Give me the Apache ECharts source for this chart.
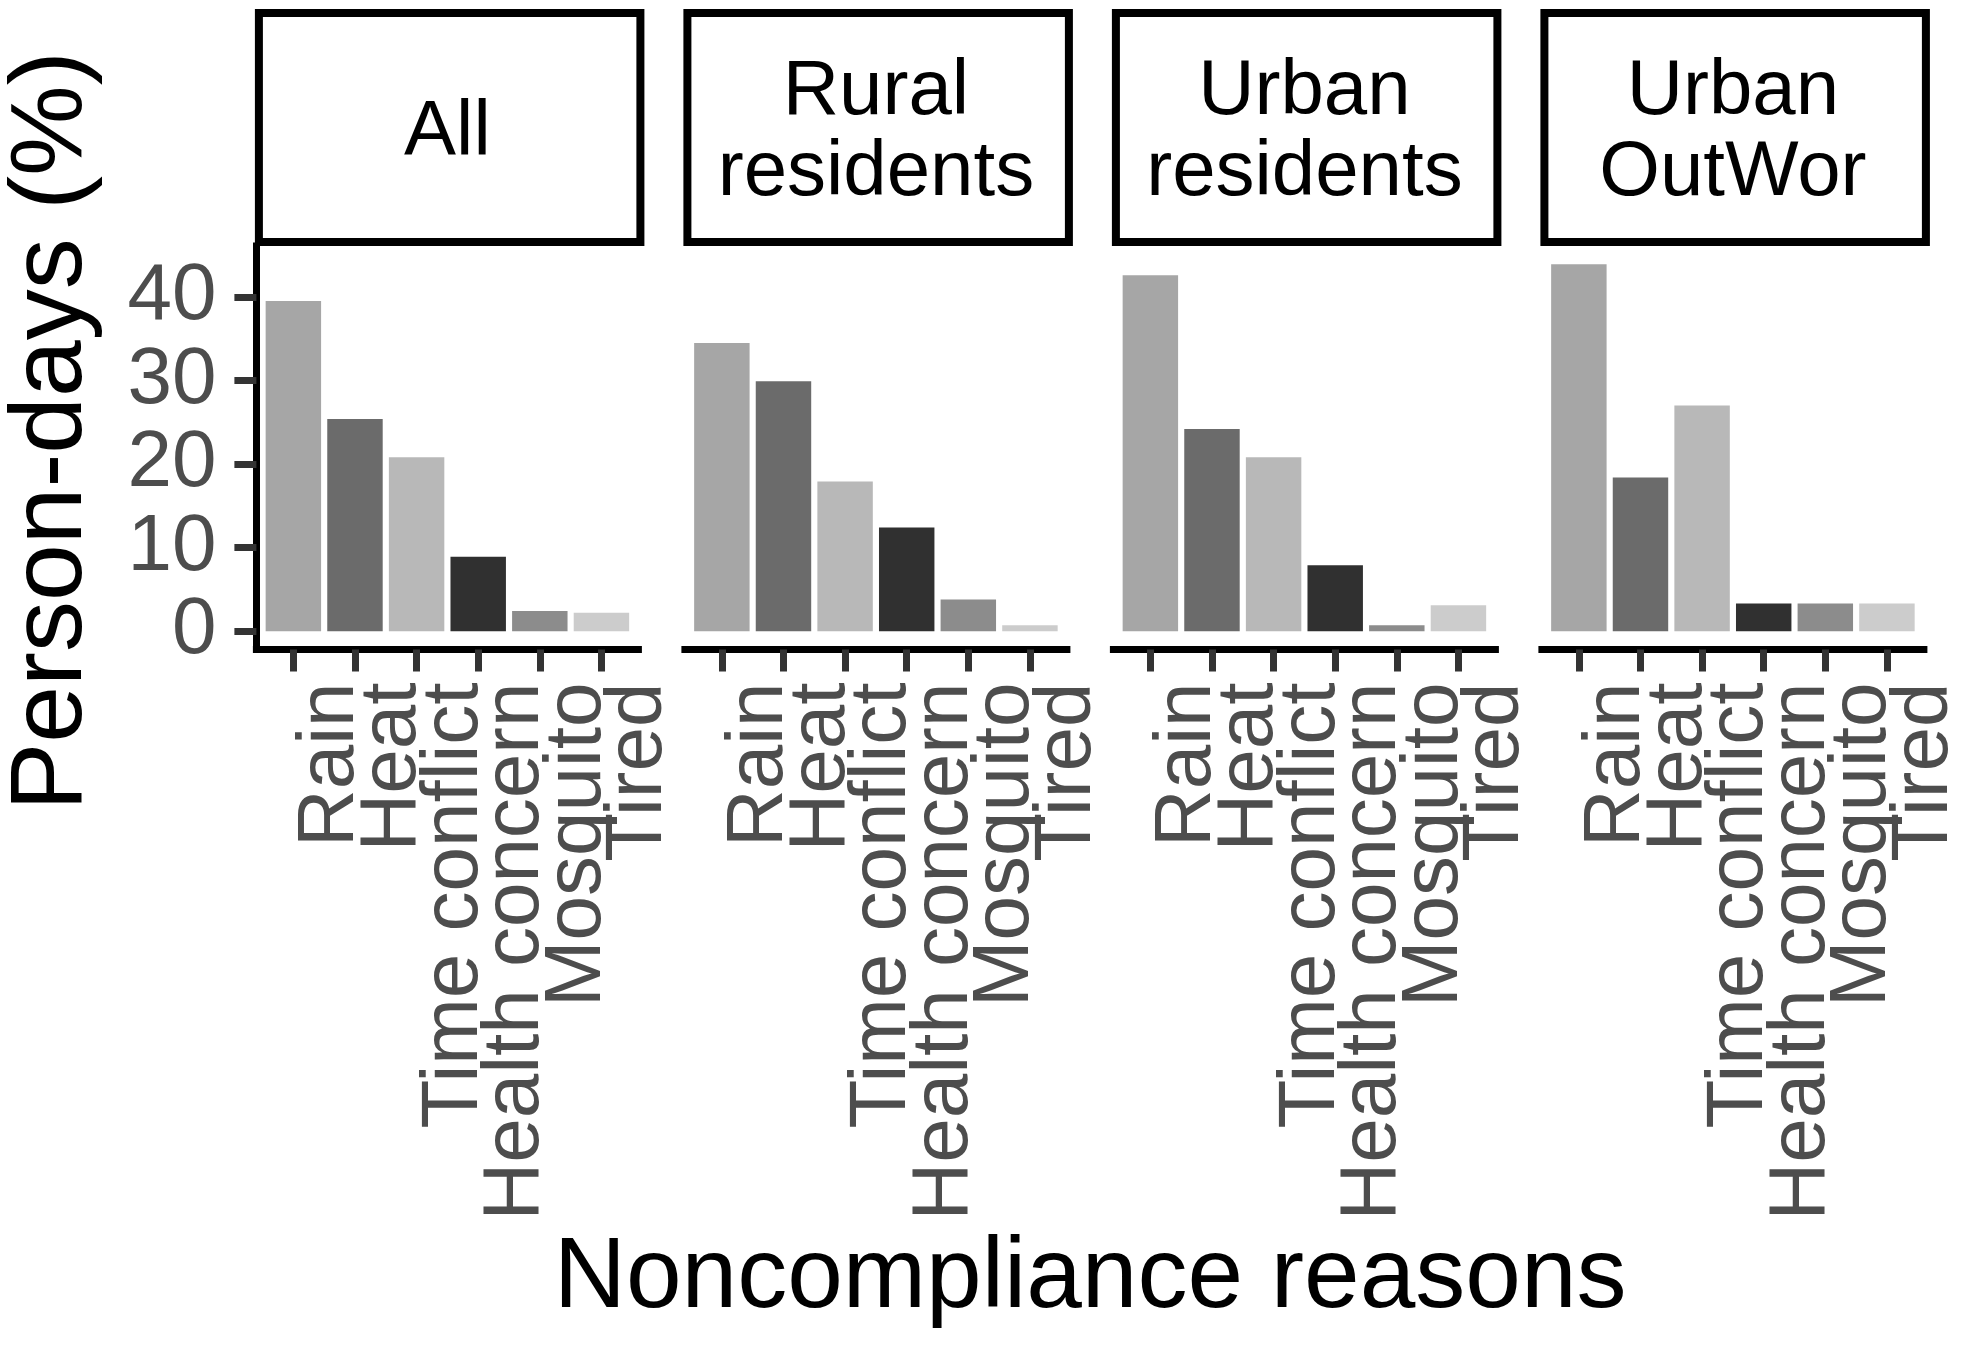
<!DOCTYPE html>
<html>
<head>
<meta charset="utf-8">
<script src="https://cdn.jsdelivr.net/npm/echarts@6/dist/echarts.min.js"></script>
<style>
html,body{margin:0;padding:0;background:#fff;}
#chart{width:1961px;height:1346px;}
</style>
</head>
<body>
<div id="chart"></div>
<script>
// ---- data ----
const categories = ['Rain', 'Heat', 'Time conflict', 'Health concern', 'Mosquito', 'Tired'];
const panelNames = ['All', 'Rural\nresidents', 'Urban\nresidents', 'Urban\nOutWor'];
const allValues = [39.5, 25.4, 20.8, 8.9, 2.4, 2.2];
const ruralValues = [34.5, 29.9, 17.9, 12.4, 3.8, 0.7];
const urbanValues = [42.6, 24.2, 20.8, 7.9, 0.7, 3.1];
const outworValues = [43.9, 18.4, 27.0, 3.3, 3.3, 3.3];
const yTicks = [0, 10, 20, 30, 40];
const xTitle = 'Noncompliance reasons';
const yTitle = 'Person-days (%)';

// ---- styles ----
const reasonColors = ['#A6A6A6', '#6B6B6B', '#B8B8B8', '#303030', '#8C8C8C', '#CCCCCC'];
const FONT = '"Liberation Sans", Arial, Helvetica, sans-serif';
const panelValues = [allValues, ruralValues, urbanValues, outworValues];

// ---- layout ----
const P_LEFT0 = 256.4, P_STEP = 428.5, P_W = 382, P_TOP = 246, P_H = 403.5;
const U = P_W / (categories.length + 0.2);      // one category unit (ggplot-style 0.6 expansion)
const dataMax = Math.max(...panelValues.flat());
const yMin = -0.05 * dataMax, yMax = 1.05 * dataMax;

const grids = [], xAxes = [], yAxes = [], series = [], graphics = [];
panelValues.forEach((vals, p) => {
  const left = P_LEFT0 + p * P_STEP;
  const gFrame = grids.length;
  // frame grid: full panel width, carries the axis lines (and the y scale for panel 1)
  grids.push({left: left, top: P_TOP, width: P_W, height: P_H, outerBoundsMode: 'none', containLabel: false});
  xAxes.push({
    type: 'value', gridIndex: gFrame, min: 0, max: 1,
    splitLine: {show: false}, axisTick: {show: false}, axisLabel: {show: false},
    axisLine: {show: true, onZero: false, lineStyle: {color: '#000', width: 7, cap: 'square'}}
  });
  yAxes.push({
    type: 'value', gridIndex: gFrame, min: yMin, max: yMax, show: p === 0,
    splitLine: {show: false},
    axisLine: {show: p === 0, onZero: false, lineStyle: {color: '#000', width: 7, cap: 'square'}},
    axisTick: {show: p === 0, customValues: yTicks, length: 22, lineStyle: {color: '#333', width: 7}},
    axisLabel: {show: p === 0, customValues: yTicks, margin: 40, showMinLabel: true, showMaxLabel: true,
      color: '#4D4D4D', fontSize: 80, fontFamily: FONT}
  });
  // bar grid: inset by 0.1 unit so category bands sit like ggplot's discrete scale
  const gBar = grids.length;
  grids.push({left: left + 0.1 * U, top: P_TOP, width: categories.length * U, height: P_H,
    outerBoundsMode: 'none', containLabel: false});
  xAxes.push({
    type: 'category', gridIndex: gBar, data: categories, boundaryGap: true,
    axisLine: {show: false, onZero: false},
    axisTick: {show: true, alignWithLabel: true, interval: 0, length: 22, lineStyle: {color: '#333', width: 7}},
    axisLabel: {
      show: true, interval: 0, rotate: 90, margin: 33,
      verticalAlign: 'top', lineHeight: 76,
      color: '#4D4D4D', fontSize: 80, fontFamily: FONT
    }
  });
  yAxes.push({type: 'value', gridIndex: gBar, min: yMin, max: yMax, show: false});
  series.push({
    type: 'bar', xAxisIndex: gBar, yAxisIndex: gBar, barWidth: '90%',
    data: vals.map((v, i) => ({value: v, itemStyle: {color: reasonColors[i]}})),
    silent: true, animation: false
  });
  // facet strip
  graphics.push({
    type: 'rect', left: left - 1.5, top: 9, z: 10,
    shape: {x: 0, y: 0, width: P_W - 0.5, height: 229},
    style: {fill: '#fff', stroke: '#000', lineWidth: 8}
  });
  graphics.push({
    type: 'text', x: left + P_W / 2, y: 133, z: 11,
    style: {text: panelNames[p], fill: '#000', font: '78px ' + FONT, align: 'center', verticalAlign: 'middle', lineHeight: 81}
  });
});
// axis titles
graphics.push({
  type: 'text', x: P_LEFT0 + (3 * P_STEP + P_W) / 2, y: 1279, z: 11,
  style: {text: xTitle, fill: '#000', font: '100px ' + FONT, align: 'center', verticalAlign: 'middle'}
});
graphics.push({
  type: 'text', x: 53, y: 431, rotation: Math.PI / 2, z: 11,
  style: {text: yTitle, fill: '#000', font: '102px ' + FONT, align: 'center', verticalAlign: 'middle'}
});

const chart = echarts.init(document.getElementById('chart'), null, {renderer: 'canvas'});
chart.setOption({
  backgroundColor: '#fff',
  animation: false,
  grid: grids, xAxis: xAxes, yAxis: yAxes, series: series,
  graphic: {elements: graphics}
});
</script>
</body>
</html>
